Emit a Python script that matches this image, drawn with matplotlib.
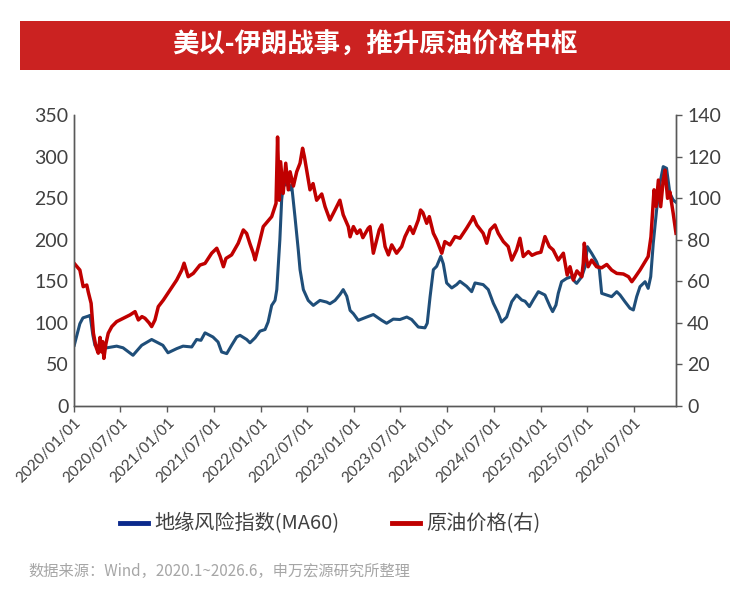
import pandas as pd
import matplotlib.pyplot as plt
from matplotlib.lines import Line2D
from matplotlib.patches import Rectangle

plt.rcParams['font.family'] = ['Noto Sans CJK SC', 'DejaVu Sans']

# 地缘风险指数(MA60), left axis
risk_dates = ['2020-01-02', '2020-01-24', '2020-02-05', '2020-02-25', '2020-03-04', '2020-03-15',
              '2020-03-23', '2020-04-12', '2020-05-09', '2020-06-16', '2020-07-11', '2020-08-19',
              '2020-09-22', '2020-10-31', '2020-12-14', '2021-01-03', '2021-02-06', '2021-03-03',
              '2021-04-06', '2021-04-25', '2021-05-12', '2021-05-28', '2021-06-28', '2021-07-18',
              '2021-08-01', '2021-08-21', '2021-09-09', '2021-09-29', '2021-10-12', '2021-11-07',
              '2021-11-20', '2021-12-10', '2021-12-29', '2022-01-18', '2022-01-30', '2022-02-13',
              '2022-02-26', '2022-03-05', '2022-03-17', '2022-03-24', '2022-03-30', '2022-04-13',
              '2022-04-26', '2022-05-02', '2022-05-15', '2022-05-28', '2022-06-04', '2022-06-17',
              '2022-07-06', '2022-07-26', '2022-08-21', '2022-09-16', '2022-09-29', '2022-10-19',
              '2022-11-07', '2022-11-20', '2022-12-04', '2022-12-17', '2022-12-30', '2023-01-18',
              '2023-02-20', '2023-03-18', '2023-04-20', '2023-05-09', '2023-06-04', '2023-06-30',
              '2023-07-27', '2023-08-15', '2023-09-10', '2023-10-06', '2023-10-15', '2023-10-26',
              '2023-11-08', '2023-11-21', '2023-12-07', '2023-12-17', '2023-12-30', '2024-01-19',
              '2024-02-07', '2024-02-20', '2024-03-17', '2024-04-06', '2024-04-19', '2024-05-21',
              '2024-06-10', '2024-06-30', '2024-07-19', '2024-08-01', '2024-08-21', '2024-09-10',
              '2024-09-29', '2024-10-19', '2024-11-01', '2024-11-18', '2024-12-03', '2024-12-23',
              '2025-01-18', '2025-02-07', '2025-02-17', '2025-03-02', '2025-03-11', '2025-03-24',
              '2025-04-13', '2025-05-02', '2025-05-15', '2025-05-22', '2025-06-11', '2025-06-24',
              '2025-07-03', '2025-07-20', '2025-08-08', '2025-08-19', '2025-08-28', '2025-09-17',
              '2025-10-06', '2025-10-26', '2025-11-08', '2025-11-27', '2025-12-17', '2025-12-30',
              '2026-01-12', '2026-01-25', '2026-02-14', '2026-02-26', '2026-03-08', '2026-03-18',
              '2026-03-31', '2026-04-13', '2026-04-26', '2026-05-09', '2026-05-22', '2026-06-04',
              '2026-06-15']
risk_values = [73, 99, 106, 108, 109, 85,
               73, 71, 70, 72, 70, 61,
               73, 80, 73, 64, 69, 72,
               71, 80, 79, 88, 83, 77,
               65, 63, 73, 83, 85, 80,
               76, 82, 90, 92, 101, 121,
               127, 140, 200, 248, 264, 268,
               260, 266, 228, 188, 164, 140,
               127, 121, 127, 125, 123, 127,
               134, 140, 132, 115, 111, 103,
               107, 110, 103, 99.5, 104.5, 104,
               107, 104, 95, 94, 99.5, 131,
               164, 168, 180, 171, 148, 142,
               146, 150, 144, 137.5, 148, 146,
               140, 123.5, 111.5, 101, 107, 125.5,
               133.5, 127.5, 126, 119.5, 127.5, 137.5,
               133.5, 119.5, 113.5, 121.5, 135.5, 149.5,
               153.5, 155.5, 149.5, 147.5, 155.5, 167.5,
               191.6, 183.5, 173.5, 164, 135.5, 133.5,
               131.5, 137.5, 133.5, 125.5, 117.5, 115.5,
               131.5, 143.5, 149.5, 141.5, 155.5, 195.7,
               235.7, 267.9, 287.9, 285.9, 255.8, 247.8,
               245]

# 原油价格(右), right axis
oil_dates = ['2020-01-02', '2020-01-24', '2020-02-06', '2020-02-20', '2020-02-26', '2020-03-08',
             '2020-03-17', '2020-03-27', '2020-04-05', '2020-04-12', '2020-04-18', '2020-04-22',
             '2020-04-27', '2020-05-05', '2020-05-14', '2020-05-28', '2020-06-16', '2020-07-12',
             '2020-08-07', '2020-08-27', '2020-09-09', '2020-09-23', '2020-10-05', '2020-10-21',
             '2020-10-31', '2020-11-13', '2020-11-26', '2020-12-16', '2021-01-11', '2021-02-06',
             '2021-02-26', '2021-03-07', '2021-03-23', '2021-04-12', '2021-05-08', '2021-05-28',
             '2021-06-23', '2021-07-13', '2021-07-26', '2021-08-08', '2021-08-18', '2021-09-09',
             '2021-10-05', '2021-10-25', '2021-11-07', '2021-11-20', '2021-12-03', '2021-12-10',
             '2021-12-23', '2022-01-11', '2022-01-26', '2022-02-13', '2022-03-02', '2022-03-08',
             '2022-03-15', '2022-03-20', '2022-03-30', '2022-04-09', '2022-04-19', '2022-04-26',
             '2022-05-09', '2022-05-22', '2022-06-04', '2022-06-14', '2022-06-21', '2022-07-02',
             '2022-07-13', '2022-07-25', '2022-08-08', '2022-08-28', '2022-09-10', '2022-09-29',
             '2022-10-19', '2022-11-07', '2022-11-20', '2022-12-10', '2022-12-17', '2022-12-30',
             '2023-01-13', '2023-01-25', '2023-02-05', '2023-02-26', '2023-03-05', '2023-03-18',
             '2023-04-10', '2023-04-20', '2023-05-03', '2023-05-16', '2023-05-29', '2023-06-17',
             '2023-07-07', '2023-07-20', '2023-08-08', '2023-08-21', '2023-09-10', '2023-09-19',
             '2023-09-28', '2023-10-13', '2023-10-23', '2023-11-08', '2023-11-21', '2023-12-11',
             '2023-12-23', '2024-01-12', '2024-02-01', '2024-02-20', '2024-03-17', '2024-04-06',
             '2024-04-12', '2024-04-26', '2024-05-21', '2024-06-04', '2024-06-17', '2024-07-06',
             '2024-07-19', '2024-08-08', '2024-08-27', '2024-09-10', '2024-09-29', '2024-10-12',
             '2024-10-25', '2024-11-14', '2024-11-28', '2024-12-16', '2025-01-02', '2025-01-18',
             '2025-02-04', '2025-02-19', '2025-03-11', '2025-03-31', '2025-04-15', '2025-04-26',
             '2025-05-09', '2025-05-23', '2025-06-11', '2025-06-17', '2025-06-21', '2025-06-27',
             '2025-07-06', '2025-07-20', '2025-08-08', '2025-08-28', '2025-09-17', '2025-10-06',
             '2025-10-26', '2025-11-21', '2025-12-11', '2025-12-24', '2026-01-06', '2026-01-25',
             '2026-02-14', '2026-02-26', '2026-03-09', '2026-03-16', '2026-03-21', '2026-03-29',
             '2026-04-07', '2026-04-16', '2026-04-26', '2026-05-03', '2026-05-13', '2026-05-22',
             '2026-06-04', '2026-06-15']
oil_values = [68.6, 65.4, 57.4, 58.2, 54.8, 49.4,
              35, 28.5, 25.4, 33, 26, 31,
              22.9, 30, 35, 38.2, 40.6, 42.2,
              43.8, 45.4, 41.4, 43, 42.2, 40,
              38.2, 41.4, 47.8, 51, 55.8, 60.6,
              65.4, 68.7, 62.2, 63.8, 67.8, 68.6,
              73.5, 75.9, 72, 67, 71, 72.7,
              78.3, 84.7, 83, 78, 73.5, 70.3,
              76.7, 86.3, 88.5, 91.1, 97.5, 129.4,
              99, 117.5, 102.3, 116.8, 104, 112.7,
              105.8, 112.7, 116.8, 124, 120, 112,
              104, 107, 99, 102, 95.9, 89.5,
              94.3, 99, 92, 86.3, 81.4, 86.3,
              83, 84.7, 81, 85.5, 86.3, 73.5,
              84.7, 87.1, 76.7, 72.7, 77.5, 73.5,
              76.7, 81.5, 86.3, 83, 89.5, 94.3,
              93, 87.9, 91.1, 83.1, 79.9, 73.5,
              79.1, 77.5, 81.5, 80.7, 85.5, 89.5,
              91.1, 87.1, 83.1, 78.3, 84.7, 87.1,
              83.1, 79.1, 76.7, 70.2, 75.1, 80.7,
              71.9, 74.3, 72.5, 73.5, 74, 81.5,
              76.7, 75.1, 70.2, 73.5, 63, 67,
              60.6, 65, 62.2, 68.7, 78.3, 72,
              67, 70.2, 67, 66.5, 68.1, 65.4,
              63.8, 63.5, 62.2, 59.8, 62, 65.4,
              69.4, 71.9, 81.4, 94.3, 104, 96,
              108.7, 95.9, 108.7, 113.5, 99.9, 103,
              92.7, 83.1]

tick_dates = ['2020-01-01', '2020-07-01', '2021-01-01', '2021-07-01', '2022-01-01', '2022-07-01',
              '2023-01-01', '2023-07-01', '2024-01-01', '2024-07-01', '2025-01-01', '2025-07-01',
              '2026-01-01']
tick_labels = ['2020/01/01', '2020/07/01', '2021/01/01', '2021/07/01', '2022/01/01', '2022/07/01',
               '2023/01/01', '2023/07/01', '2024/01/01', '2024/07/01', '2025/01/01', '2025/07/01',
               '2026/07/01']

title = '美以-伊朗战事，推升原油价格中枢'
source = '数据来源：Wind，2020.1~2026.6，申万宏源研究所整理'

axis_col = '#595959'
text_col = '#404040'
blue = '#1F4E79'
red = '#C00000'

fig = plt.figure(figsize=(7.5, 6.01), dpi=100)
ax = fig.add_axes([74 / 750, 1 - 406 / 601, 602 / 750, 291 / 601])
ax2 = ax.twinx()

ax.plot(pd.to_datetime(risk_dates), risk_values, color=blue, lw=2.2)
ax2.plot(pd.to_datetime(oil_dates), oil_values, color=red, lw=2.5)

ax.set_xlim(pd.Timestamp('2020-01-01'), pd.Timestamp('2026-06-15'))
ax.set_ylim(0, 350)
ax2.set_ylim(0, 140)
ax.set_yticks(range(0, 351, 50))
ax2.set_yticks(range(0, 141, 20))
ax.set_xticks(pd.to_datetime(tick_dates))
ax.set_xticklabels(tick_labels, rotation=45, ha='right', rotation_mode='anchor')

for a in (ax, ax2):
    a.spines['top'].set_visible(False)
    for s in ('left', 'right', 'bottom'):
        a.spines[s].set_color(axis_col)
        a.spines[s].set_linewidth(1.0)
    a.tick_params(colors=axis_col, labelcolor=text_col, width=1.0, length=4)

ax.tick_params(axis='y', length=0, labelsize=14, pad=4)
ax.tick_params(axis='x', labelsize=11, pad=3)
ax2.tick_params(axis='y', labelsize=14, pad=4)

# thinner digits like the reference
for lab in ax.get_yticklabels() + ax2.get_yticklabels() + ax.get_xticklabels():
    lab.set_family(['Lato', 'DejaVu Sans'])

# red title bar
fig.add_artist(Rectangle((20 / 750, 1 - 70 / 601), 710 / 750, 49 / 601,
                         transform=fig.transFigure, color='#CB2221', lw=0))
fig.text(0.5, 1 - 45 / 601, title, ha='center', va='center', color='white',
         fontsize=19, fontweight='bold')

handles = [Line2D([], [], color='#0B2A8C', lw=3.5), Line2D([], [], color=red, lw=3.5)]
fig.legend(handles, ['地缘风险指数(MA60)', '原油价格(右)'], loc='center',
           bbox_to_anchor=(0.44, 1 - 524 / 601), ncol=2, frameon=False, fontsize=14.5,
           handlelength=1.4, handletextpad=0.3, columnspacing=2.6, labelcolor=text_col)

fig.text(28 / 750, 1 - 571 / 601, source, ha='left', va='center', color='#A6A6A6', fontsize=11)

fig.savefig('out.png', dpi=100, facecolor='white')
